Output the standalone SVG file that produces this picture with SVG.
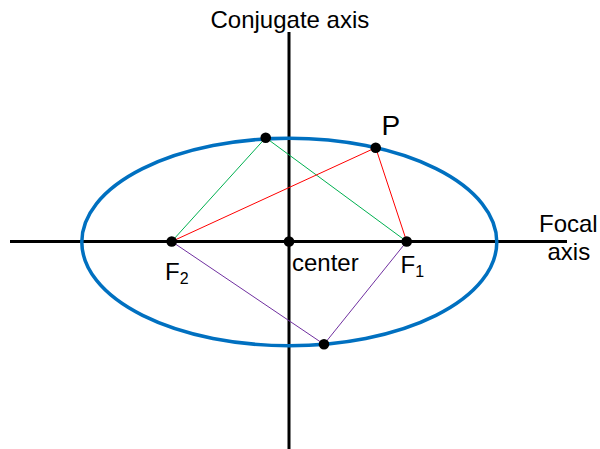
<svg xmlns="http://www.w3.org/2000/svg" width="600" height="449" viewBox="0 0 600 449">
<style>
.t{font-family:"Liberation Sans",Arial,sans-serif;fill:#000;font-size:24px}
.ax{stroke:#000;stroke-width:3;fill:none}
.dot{fill:#000}
.g{stroke:#00b050;stroke-width:1}
.r{stroke:#ff0000;stroke-width:1}
.p{stroke:#7030a0;stroke-width:1}
</style>
<rect width="600" height="449" fill="#fff"/>
<g id="axes">
<line class="ax" x1="10" y1="241.5" x2="567" y2="241.5"/>
<line class="ax" x1="289" y1="32" x2="289" y2="449"/>
</g>
<g id="ellipse">
<ellipse cx="289.3" cy="242" rx="207.5" ry="103.7" fill="none" stroke="#0070c0" stroke-width="3.5"/>
</g>
<g id="connectors">
<line class="g" x1="265.7" y1="137.7" x2="171.7" y2="241.5"/>
<line class="g" x1="265.7" y1="137.7" x2="406.7" y2="241.5"/>
<line class="r" x1="375.7" y1="147.7" x2="171.7" y2="241.5"/>
<line class="r" x1="375.7" y1="147.7" x2="406.7" y2="241.5"/>
<line class="p" x1="324" y1="344.3" x2="171.7" y2="241.5"/>
<line class="p" x1="324" y1="344.3" x2="406.7" y2="241.5"/>
</g>
<g id="center"><circle class="dot" cx="289" cy="241.5" r="5.3"/><text class="t" x="292" y="271">center</text></g>
<g id="F2"><circle class="dot" cx="171.7" cy="241.5" r="5.3"/><text class="t" x="165" y="280">F<tspan font-size="16" dy="4">2</tspan></text></g>
<g id="F1"><circle class="dot" cx="406.7" cy="241.5" r="5.3"/><text class="t" x="400.5" y="273.3">F<tspan font-size="16" dy="3.4">1</tspan></text></g>
<g id="top"><circle class="dot" cx="265.7" cy="137.7" r="5.3"/></g>
<g id="P"><circle class="dot" cx="375.7" cy="147.7" r="5.3"/><text class="t" x="381.5" y="135" font-size="28" style="font-size:28px">P</text></g>
<g id="bottom"><circle class="dot" cx="324" cy="344.3" r="5.3"/></g>
<g id="labels">
<text class="t" x="210.5" y="28">Conjugate axis</text>
<text class="t" x="539" y="232">Focal</text>
<text class="t" x="547.5" y="260">axis</text>
</g>
</svg>
